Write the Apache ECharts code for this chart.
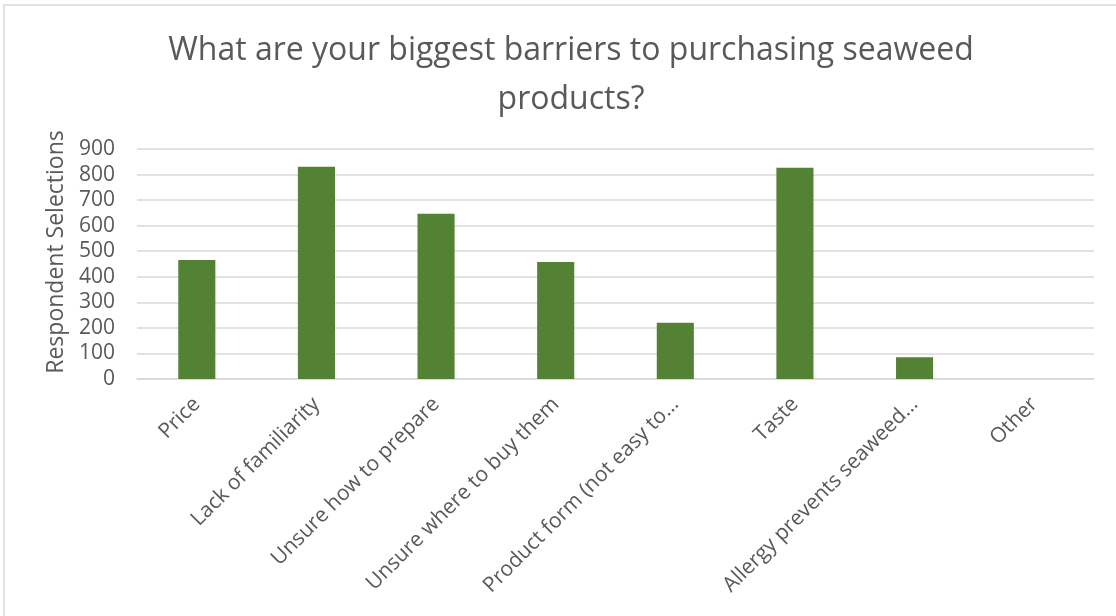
<!DOCTYPE html>
<html>
<head>
<meta charset="utf-8">
<script src="https://cdn.jsdelivr.net/npm/echarts@6/dist/echarts.min.js"></script>
<style>
  html, body { margin: 0; padding: 0; background: #fff; }
  #chart { width: 1116px; height: 616px; }
</style>
</head>
<body>
<div id="chart"></div>
<script>
// Survey answers: barriers to buying seaweed products
const categories = [
  'Price',
  'Lack of familiarity',
  'Unsure how to prepare',
  'Unsure where to buy them',
  'Product form (not easy to…',
  'Taste',
  'Allergy prevents seaweed…',
  'Other'
];
const selections = [466, 831, 647, 458, 220, 827, 85, 0];
const yTicks = { min: 0, max: 900, interval: 100 };

const textColor = '#595959';
const fontFamily = '"Open Sans", "Liberation Sans", sans-serif';

const chart = echarts.init(document.getElementById('chart'), null, { renderer: 'canvas' });
chart.setOption({
  backgroundColor: '#ffffff',
  animation: false,
  title: {
    text: 'What are your biggest barriers to purchasing seaweed\nproducts?',
    left: 566,
    textAlign: 'center',
    top: 21,
    textStyle: {
      color: textColor,
      fontFamily: fontFamily,
      fontWeight: 'normal',
      fontSize: 32,
      lineHeight: 49
    }
  },
  graphic: [{
    type: 'rect',
    shape: { x: 4, y: 5, width: 1200, height: 700 },
    style: { fill: 'none', stroke: '#d9d9d9', lineWidth: 1.5 },
    silent: true,
    z: -1
  }],
  grid: { left: 137, right: 22, top: 149, bottom: 237, containLabel: false },
  xAxis: {
    type: 'category',
    data: categories,
    axisTick: { show: false },
    axisLine: { show: true, lineStyle: { color: '#d9d9d9', width: 1.5 } },
    axisLabel: {
      rotate: 45,
      interval: 0,
      color: textColor,
      fontFamily: fontFamily,
      fontSize: 21,
      margin: 22
    }
  },
  yAxis: {
    type: 'value',
    min: yTicks.min,
    max: yTicks.max,
    interval: yTicks.interval,
    name: 'Respondent Selections',
    nameLocation: 'middle',
    nameGap: 60,
    nameTextStyle: {
      color: textColor,
      fontFamily: fontFamily,
      fontSize: 23,
      padding: [0, 0, 0, 24]
    },
    axisLine: { show: false },
    axisTick: { show: false },
    axisLabel: { color: textColor, fontFamily: fontFamily, fontSize: 21, margin: 22 },
    splitLine: { lineStyle: { color: '#d9d9d9', width: 1.5 } }
  },
  series: [{
    type: 'bar',
    data: selections,
    barWidth: '31%',
    itemStyle: { color: '#548235' }
  }]
});
</script>
</body>
</html>
